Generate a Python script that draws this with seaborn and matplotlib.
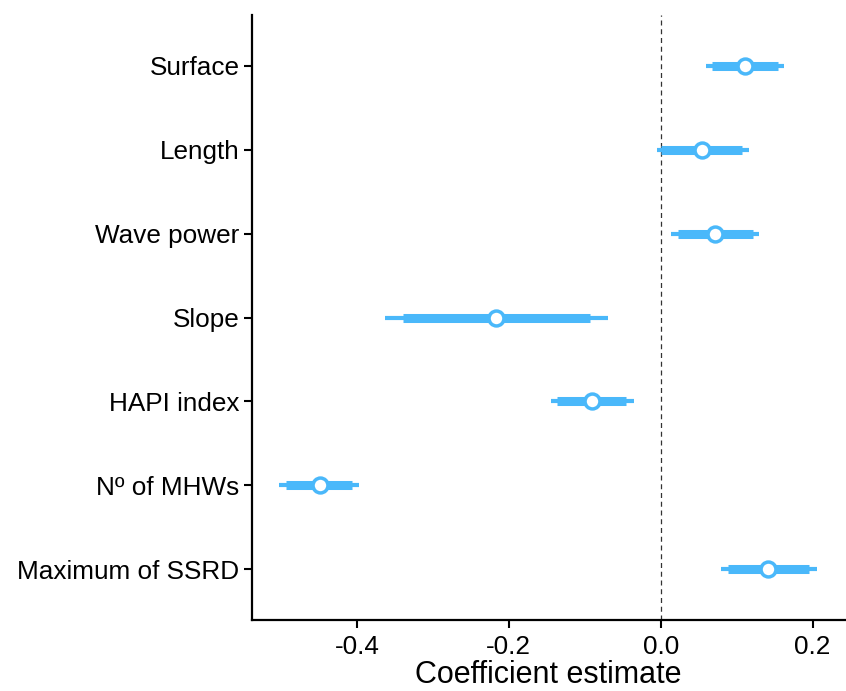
import pandas as pd
import numpy as np
import matplotlib
matplotlib.use("Agg")
import matplotlib.pyplot as plt
import seaborn as sns

# data
terms = ["Surface", "Length", "Wave power", "Slope", "HAPI index",
         "Nº of MHWs", "Maximum of SSRD"]
estimate = [0.111, 0.055, 0.072, -0.217, -0.091, -0.448, 0.142]
ci95_low = [0.060, -0.005, 0.014, -0.363, -0.145, -0.502, 0.079]
ci95_high = [0.163, 0.117, 0.130, -0.069, -0.035, -0.397, 0.206]
ci90_low = [0.067, 0.001, 0.023, -0.339, -0.136, -0.493, 0.089]
ci90_high = [0.155, 0.107, 0.121, -0.093, -0.045, -0.406, 0.196]
xticks = [-0.4, -0.2, 0.0, 0.2]

df = pd.DataFrame({
    "term": terms, "estimate": estimate,
    "lo95": ci95_low, "hi95": ci95_high,
    "lo90": ci90_low, "hi90": ci90_high,
})
df["pos"] = np.arange(len(df))

sns.set_style("ticks")
plt.rcParams['font.family'] = ['Liberation Sans', 'DejaVu Sans']

blue = "#4AB8FA"
fig = plt.figure(figsize=(8.46, 6.91), dpi=100)
ax = fig.add_axes([0.298, 0.103, 0.701, 0.875])

ax.axvline(0, color="#333333", lw=0.9, ls=(0, (4, 3)), zorder=1)
ax.hlines(df["pos"], df["lo95"], df["hi95"], color=blue, lw=3, zorder=2)
ax.hlines(df["pos"], df["lo90"], df["hi90"], color=blue, lw=6.5, zorder=3)
sns.scatterplot(data=df, x="estimate", y="pos", ax=ax, s=115,
                color="white", edgecolor=blue, linewidth=2.5, zorder=4)

ax.set_ylim(6.6, -0.6)
ax.set_xlim(-0.538, 0.243)
ax.set_yticks(df["pos"])
ax.set_yticklabels(df["term"])
ax.set_xticks(xticks)
ax.set_xticklabels([f"{t:.1f}" for t in xticks])
ax.set_ylabel("")
ax.set_xlabel("Coefficient estimate", fontsize=22, labelpad=1, color="black")
ax.tick_params(axis="both", labelsize=18.8, width=1.5, length=6, color="black",
               labelcolor="black")
ax.tick_params(axis="x", pad=5)
ax.tick_params(axis="y", pad=3)
for side in ["left", "bottom"]:
    ax.spines[side].set_linewidth(1.6)
    ax.spines[side].set_color("black")
sns.despine(ax=ax)

fig.savefig("out.png", dpi=100)
